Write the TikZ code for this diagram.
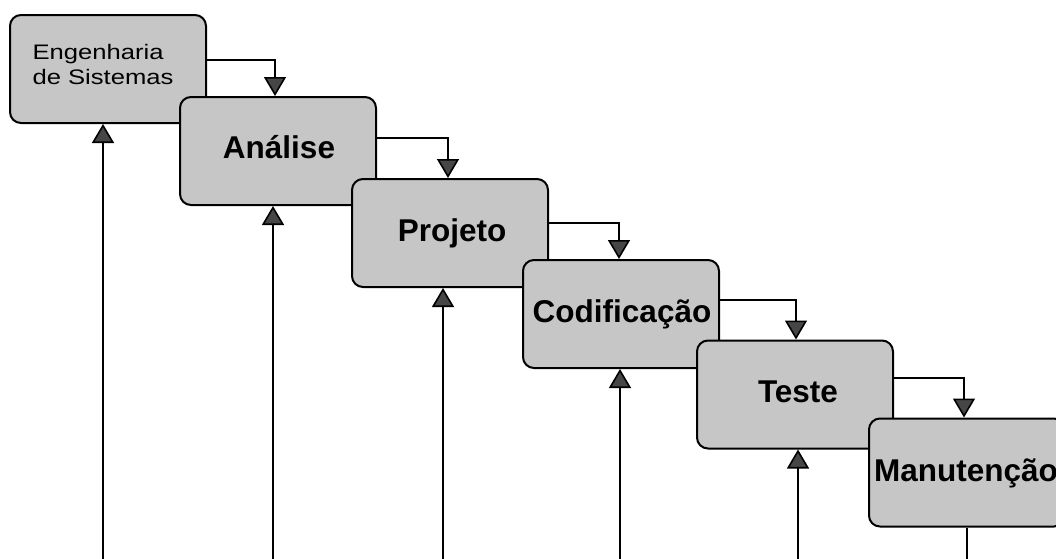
\documentclass[tikz,border=0pt]{standalone}
\usepackage{fontspec}
\setmainfont{Liberation Sans}
\usetikzlibrary{arrows.meta}
\definecolor{boxfill}{RGB}{198,198,198}
\definecolor{tipfill}{RGB}{70,70,70}
\tikzset{
  stepbox/.style={draw=black, line width=2pt, fill=boxfill, rounded corners=11pt,
    minimum width=196pt, minimum height=108pt, inner sep=0pt},
  lbl/.style={font=\bfseries\fontsize{31.5}{36}\selectfont, text height=22pt,
    text depth=0pt, inner sep=0pt},
  flow/.style={draw=black, line width=1.6pt,
    -{Triangle[width=22pt 0 0,length=19pt 0 0,fill=tipfill]}},
  plain/.style={draw=black, line width=1.6pt}
}
\begin{document}
\begin{tikzpicture}[x=1pt,y=-1pt]
\useasboundingbox (0,0) rectangle (1056,558);
\clip (0,0) rectangle (1056,558);
\fill[white] (0,0) rectangle (1056,558);

% cascade of phases
\node[stepbox] (b1) at (108,69) {};
\node[stepbox] (b2) at (278,151) {};
\node[stepbox] (b3) at (450,233) {};
\node[stepbox] (b4) at (621,314) {};
\node[stepbox] (b5) at (795,394.5) {};
\node[stepbox] (b6) at (967,472.5) {};

% phase names
\node[align=left, inner sep=0pt, font=\fontsize{21}{25}\selectfont] (t1) at (103,64)
  {\scalebox{1.22}[1]{Engenharia}\\\scalebox{1.22}[1]{de Sistemas}};
\node[lbl] (t2) at (279,147.5) {Análise};
\node[lbl] (t3) at (452,230) {Projeto};
\node[lbl] (t4) at (622,311) {Codificação};
\node[lbl] (t5) at (798,391) {Teste};
\node[lbl] (t6) at (966,470) {Manutenção};

% hand-over to the next phase
\draw[flow] ([yshift=9pt]b1.east) -| ([xshift=-3pt]b2.north);
\draw[flow] ([yshift=13pt]b2.east) -| ([xshift=-2pt]b3.north);
\draw[flow] ([yshift=10pt]b3.east) -| ([xshift=-2pt]b4.north);
\draw[flow] ([yshift=14pt]b4.east) -| ([xshift=1pt]b5.north);
\draw[flow] ([yshift=16.5pt]b5.east) -| ([xshift=-3pt]b6.north);

% feedback lines from below
\coordinate (u1) at (103,560);
\coordinate (u2) at (273,560);
\coordinate (u3) at (443,560);
\coordinate (u4) at (620,560);
\coordinate (u5) at (798,560);
\coordinate (u6) at (967,560);
\draw[flow] (u1) -- (u1 |- b1.south);
\draw[flow] (u2) -- (u2 |- b2.south);
\draw[flow] (u3) -- (u3 |- b3.south);
\draw[flow] (u4) -- (u4 |- b4.south);
\draw[flow] (u5) -- (u5 |- b5.south);
\draw[plain] (u6 |- b6.south) -- (u6);
\end{tikzpicture}
\end{document}
